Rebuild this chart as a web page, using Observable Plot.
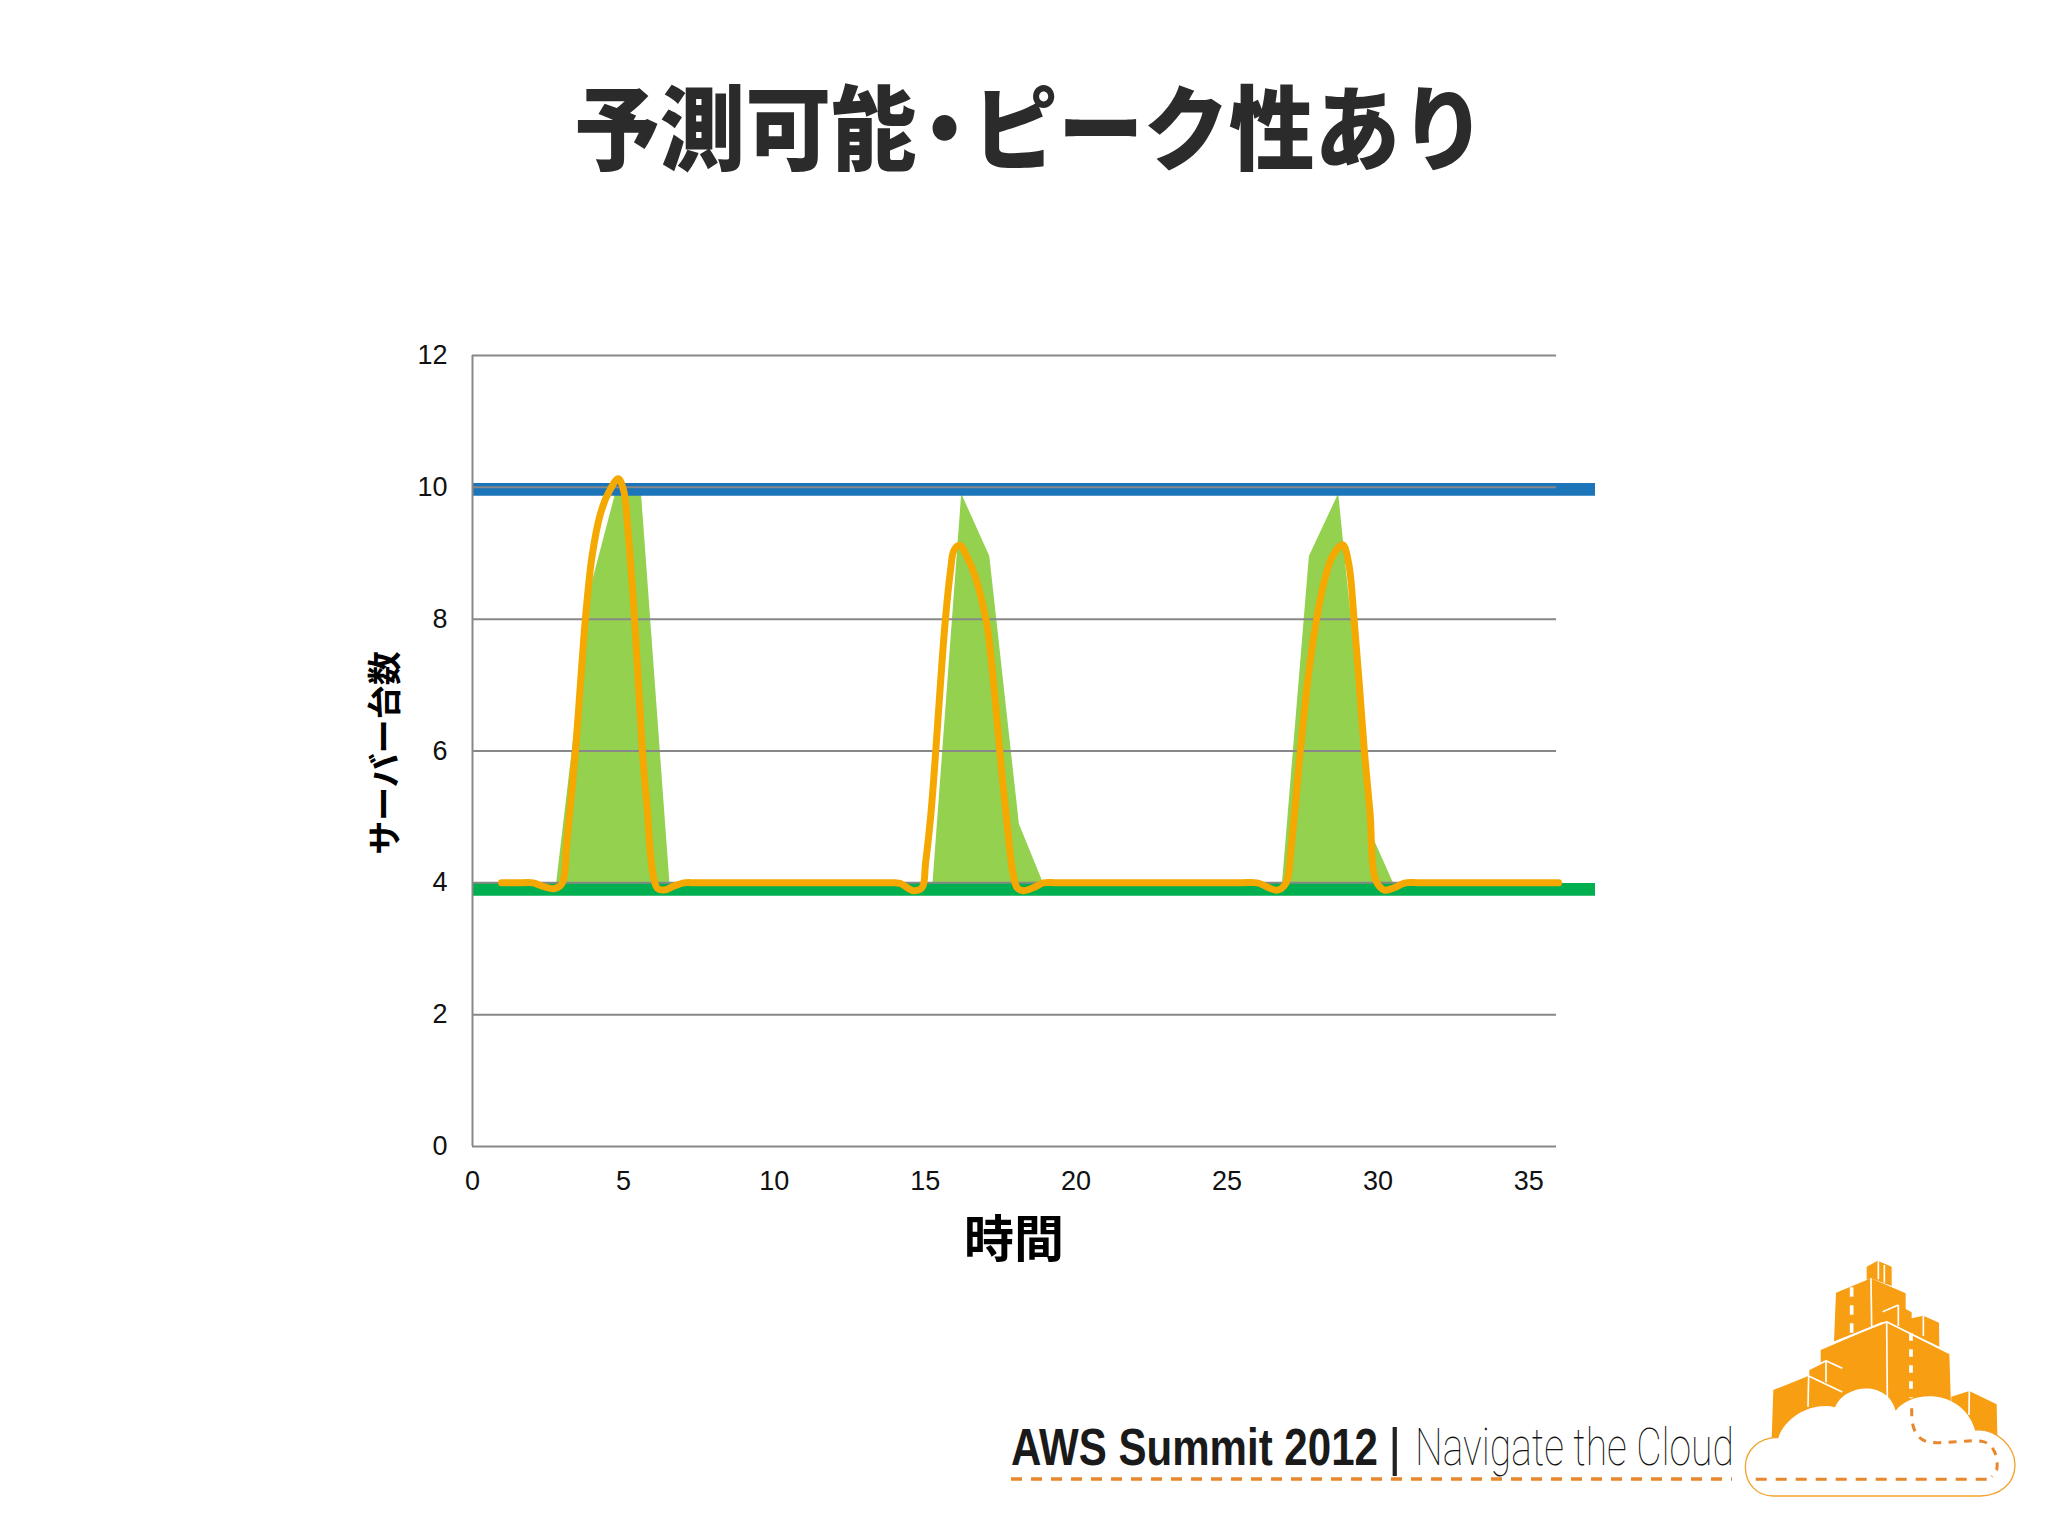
<!DOCTYPE html>
<html lang="ja">
<head>
<meta charset="utf-8">
<script src="https://cdn.jsdelivr.net/npm/d3@7"></script>
<script src="https://cdn.jsdelivr.net/npm/@observablehq/plot@0.6"></script>
<style>
  html,body{margin:0;padding:0;background:#fff;}
  #page{position:relative;width:2048px;height:1536px;overflow:hidden;background:#fff;}
  #title{position:absolute;left:0;width:2060px;top:68px;text-align:center;font:900 92px/1.2 "Noto Sans CJK JP",sans-serif;color:#2b2b2b;white-space:nowrap;transform:scaleX(0.93);transform-origin:1030px 50%;}
  #title .dot{font-feature-settings:"palt";margin:0 7px;}
  #chart{position:absolute;left:0;top:290px;}
  #chart svg{display:block;}
  #footer{position:absolute;left:0;top:0;}
</style>
</head>
<body>
<div id="page">
  <div id="title">予測可能<span class="dot">・</span>ピーク性あり</div>
  <div id="chart"></div>
  <svg id="footer" width="2048" height="1536" viewBox="0 0 2048 1536">
    <text class="fit" data-x="1011" data-w="367" y="0" font-family="'Liberation Sans Narrow','Liberation Sans'" font-weight="700" font-size="52" fill="#1a1a1a">AWS Summit 2012</text>
    <text x="1388" y="1465" font-family="'Liberation Sans'" font-weight="400" font-size="52" fill="#222">|</text>
    <text class="fit" data-x="1415" data-w="319" y="0" font-family="Roboto,Inter,'Liberation Sans Narrow'" font-weight="100" font-size="52" fill="#111">Navigate the Cloud</text>
    <line x1="1011" y1="1479" x2="1732" y2="1479" stroke="#E8872B" stroke-width="3.5" stroke-dasharray="11 9"/>
    <g transform="translate(1730,1250) scale(0.33333)">
      <g fill="#F79E13">
        <polygon points="410,50 443,32 485,50 485,108 423,85 410,90"/>
        <polygon points="318,128 423,85 527,130 527,190 458,218 458,215 312,275"/>
        <polygon points="458,185 505,165 545,187 545,205 580,197 627,218 628,290 470,215 458,218"/>
        <polygon points="272,300 470,215 658,310 666,560 272,560"/>
        <polygon points="238,358 288,332 337,355 337,425 238,380"/>
        <polygon points="130,420 235,378 337,428 337,560 125,565"/>
        <polygon points="664,440 718,423 800,463 802,560 664,560"/>
      </g>
      <g stroke="#fff" stroke-width="5" fill="none">
        <line x1="423" y1="85" x2="425" y2="230"/>
        <line x1="470" y1="215" x2="472" y2="445"/>
        <line x1="312" y1="277" x2="470" y2="215"/>
        <line x1="470" y1="215" x2="658" y2="310"/>
        <line x1="236" y1="378" x2="234" y2="470"/>
        <line x1="236" y1="378" x2="337" y2="426"/>
        <line x1="288" y1="332" x2="288" y2="397"/>
        <line x1="238" y1="358" x2="288" y2="332"/>
        <line x1="288" y1="332" x2="337" y2="355"/>
        <line x1="718" y1="423" x2="717" y2="495"/>
        <line x1="505" y1="165" x2="505" y2="228"/>
        <line x1="458" y1="185" x2="505" y2="165"/>
        <line x1="580" y1="197" x2="580" y2="258"/>
        <line x1="445" y1="34" x2="445" y2="88"/>
        <line x1="463" y1="45" x2="463" y2="98"/>
        <line x1="365" y1="112" x2="365" y2="255" stroke-width="11" stroke-dasharray="28 26"/>
        <line x1="543" y1="250" x2="543" y2="445" stroke-width="11" stroke-dasharray="22 26"/>
      </g>
      <path d="M145,563 C170,490 260,455 315,472 C340,405 470,385 497,482 C550,415 700,420 735,540 C800,535 855,590 855,645 C855,700 810,738 750,738 L130,738 C80,738 46,700 46,650 C46,600 90,560 145,563 Z" fill="#fff"/>
      <path d="M735,540 C800,535 855,590 855,645 C855,700 810,738 750,738 L130,738 C80,738 46,700 46,650 C46,600 90,560 145,563" fill="none" stroke="#F2A32C" stroke-width="4"/>
      <path d="M545,475 C545,510 545,560 590,575 C650,585 720,565 760,575 C800,585 805,640 800,660 L785,680" fill="none" stroke="#E8872B" stroke-width="9" stroke-dasharray="24 22"/>
      <line x1="770" y1="688" x2="66" y2="688" stroke="#E8872B" stroke-width="9" stroke-dasharray="33 27"/>
    </g>
  </svg>
</div>
<script>
// Tick labels
const xTicks = [0, 5, 10, 15, 20, 25, 30, 35];
const yTicks = [0, 2, 4, 6, 8, 10, 12];

// Capacity levels
const upperCapacity = 9.97;
const lowerCapacity = 3.9;

// Green area: actual demand, one list per peak, [time, servers]
const greenPeak1 = [[2.79,4],[3.96,8.54],[4.74,9.9],[5.6,9.9],[6.54,4]];
const greenPeak2 = [[15.26,4],[16.21,9.9],[17.14,8.95],[18.12,4.89],[18.91,4]];
const greenPeak3 = [[26.84,4],[27.73,8.95],[28.7,9.9],[29.86,4.67],[30.51,4]];

// Orange line: provisioned capacity, [time, servers]
const orangeLine = [
  [0.96,4],[1.5,4],[2.01,4],[2.25,3.96],[2.7,3.91],[2.97,3.99],[3.12,4.58],[3.41,6],[3.63,7.35],[3.74,8],[3.96,8.95],[4.24,9.6],[4.52,9.93],[4.83,10.13],[5.01,9.95],[5.14,9.4],[5.37,8],[5.63,6],[5.79,5.1],[5.96,4.19],[6.12,3.92],[6.34,3.89],[6.67,3.95],[7,4],[7.5,4],
  [13.5,4],[14.02,4],[14.18,3.99],[14.62,3.88],[14.9,3.93],[15.01,4.29],[15.18,5],[15.35,6],[15.51,7.05],[15.67,8],[15.84,8.74],[15.95,9.04],[16.14,9.12],[16.39,8.94],[16.66,8.64],[17.03,7.95],[17.16,7.5],[17.28,6.97],[17.47,6],[17.71,4.9],[17.91,4.14],[18.04,3.93],[18.24,3.88],[18.6,3.93],[18.92,4],[19.4,4],
  [25.4,4],[25.99,4],[26.67,3.89],[26.96,4],[27.14,4.6],[27.43,6],[27.73,7.27],[27.97,8],[28.2,8.53],[28.49,8.95],[28.83,9.13],[29.03,8.85],[29.21,8],[29.38,7.03],[29.55,6],[29.74,5.06],[29.92,4.05],[30.22,3.89],[30.56,3.93],[30.91,4],[31.4,4],[35.99,4]
];

const xMax = 37.21;     // the two bands run past the grid
const gridEnd = 35.92;
const font = "'Liberation Sans', Arial, sans-serif";
const cjk = "'Noto Sans CJK JP', sans-serif";

const greenArea = peak => Plot.areaY(peak, {x: d => d[0], y1: () => 4, y2: d => d[1], fill: "#93D14F", curve: "linear"});

const chart = Plot.plot({
  width: 2048,
  height: 1000,
  marginLeft: 472,
  marginRight: 453,
  marginTop: 65,
  marginBottom: 144,
  x: {domain: [0, xMax]},
  y: {domain: [0, 12]},
  style: {background: "transparent", fontFamily: font},
  marks: [
    greenArea(greenPeak1),
    greenArea(greenPeak2),
    greenArea(greenPeak3),
    Plot.ruleY([upperCapacity], {x1: 0, x2: xMax, stroke: "#1C75B8", strokeWidth: 12.7}),
    Plot.ruleY([lowerCapacity], {x1: 0, x2: xMax, stroke: "#00AF50", strokeWidth: 12.7}),
    Plot.ruleY(yTicks, {x1: 0, x2: gridEnd, stroke: "#888888", strokeWidth: 2}),
    Plot.ruleX([0], {y1: 0, y2: 12, stroke: "#888888", strokeWidth: 2}),
    Plot.line(orangeLine, {x: d => d[0], y: d => d[1], stroke: "#F5A800", strokeWidth: 7, curve: "catmull-rom"}),
    Plot.axisY({ticks: yTicks, tickSize: 0, tickPadding: 25, label: null, fontSize: 27, color: "#111"}),
    Plot.axisX({ticks: xTicks, tickSize: 0, tickPadding: 24, label: null, fontSize: 27, color: "#111"}),
    Plot.text(["サーバー台数"], {frameAnchor: "left", textAnchor: "middle", rotate: -90, dx: -86, dy: 2, fontSize: 34, fontWeight: 700, fontFamily: cjk, fill: "#000"}),
    Plot.text(["時間"], {frameAnchor: "bottom", dx: -20, dy: 110, fontSize: 50, fontWeight: 700, fontFamily: cjk, fill: "#000"})
  ]
});
document.getElementById("chart").appendChild(chart);

// Squeeze the footer wordmark to its condensed width
document.querySelectorAll("#footer text.fit").forEach(t => {
  const s = +t.dataset.w / t.getComputedTextLength();
  t.setAttribute("transform", `translate(${t.dataset.x},1465) scale(${s},1)`);
});
</script>
</body>
</html>
